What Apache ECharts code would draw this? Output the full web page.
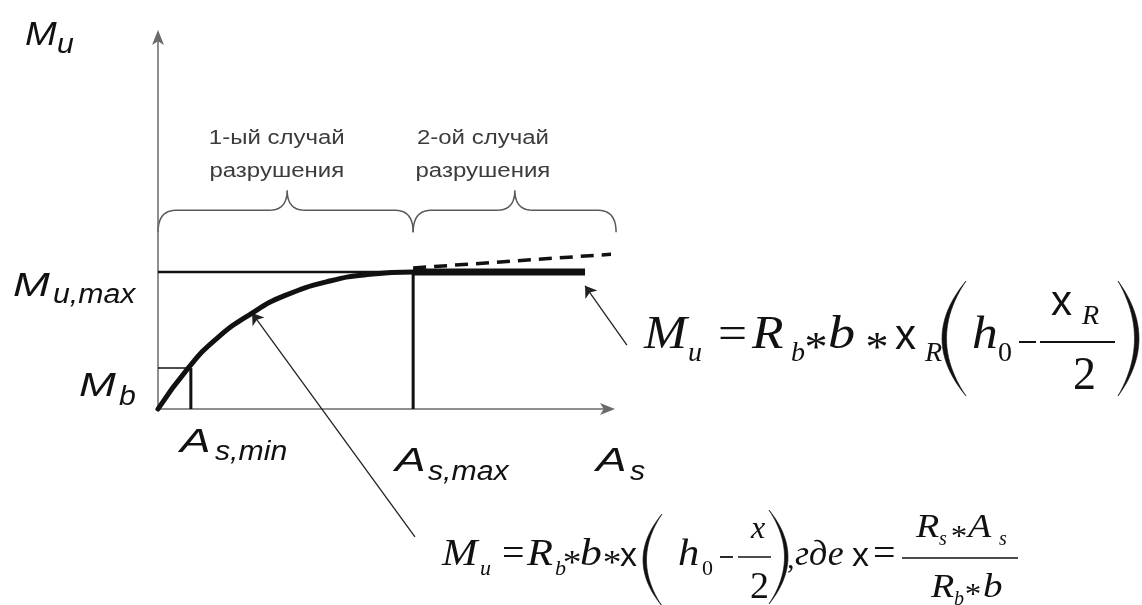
<!DOCTYPE html>
<html>
<head>
<meta charset="utf-8">
<title>Mu – As</title>
<script src="https://cdn.jsdelivr.net/npm/echarts/dist/echarts.min.js"></script>
<style>
  html, body { margin: 0; padding: 0; background: #fff; }
  #chart { width: 1142px; height: 605px; }
</style>
</head>
<body>
<div id="chart"></div>
<script>
// --- данные диаграммы (условные единицы осей 0..100) ---
const curveX = [0, 6.7, 13.1, 20.9, 28, 38.2, 47.1, 56.7];
const curveY = [0, 11.0, 19.0, 25.8, 30.4, 34.4, 36.2, 36.8];
const asMin = 7.3;      // A_s,min
const asMax = 56.7;     // A_s,max
const asEnd = 94.9;     // конец жирного участка
const mb = 11.0;        // M_b
const muMax = 36.8;     // M_u,max
const dashX = [56.7, 101.8];
const dashY = [37.9, 41.7];
const braceEdges = [[0, 56.7], [56.7, 101.8]];
const braceTips = [28.7, 79.3];
const braceLevel = 47.5;
const caseTextX = [26.4, 72.2];
const arrowFrom = [[57.1, -34.4], [104.2, 17.2]];
const arrowTo = [[20.9, 25.8], [94.9, 33.1]];
const caseLines = [['1-ый случай', 'разрушения'], ['2-ой случай', 'разрушения']];

const BLACK = '#111';
const SANS = '"Liberation Sans", Arial, sans-serif';
const SERIF = '"Liberation Serif", "Times New Roman", serif';

const chart = echarts.init(document.getElementById('chart'));

function seg(points, width, extra) {
  return Object.assign({
    type: 'line',
    data: points,
    symbol: 'none',
    clip: false,
    silent: true,
    lineStyle: { color: BLACK, width: width }
  }, extra || {});
}

function axis() {
  return {
    type: 'value',
    min: 0,
    max: 100,
    axisLine: {
      show: true,
      symbol: ['none', 'arrow'],
      symbolSize: [9, 15],
      symbolOffset: [0, 7],
      lineStyle: { color: '#6a6a6a', width: 1.5 }
    },
    axisTick: { show: false },
    axisLabel: { show: false },
    splitLine: { show: false }
  };
}

chart.setOption({
  animation: false,
  backgroundColor: '#fff',
  grid: { left: 158, right: 534, top: 37, bottom: 196 },
  xAxis: axis(),
  yAxis: axis(),
  series: [
    seg([[0, muMax], [asMax, muMax]], 2.5),
    seg([[asMax, 0], [asMax, muMax]], 3),
    seg([[asMin, 0], [asMin, mb]], 3),
    seg([[0, mb], [asMin, mb]], 1.5),
    seg(dashX.map((x, i) => [x, dashY[i]]), 3.5, {
      lineStyle: { color: BLACK, width: 3.5, type: [13, 8] }
    }),
    seg([[asMax, muMax], [asEnd, muMax]], 7),
    seg(curveX.map((x, i) => [x, curveY[i]]), 5, {
      smooth: 0.5,
      lineStyle: { color: BLACK, width: 5, cap: 'round', join: 'round' }
    }),
    {
      type: 'lines',
      coordinateSystem: 'cartesian2d',
      clip: false,
      silent: true,
      symbol: ['none', 'arrow'],
      symbolSize: 11,
      lineStyle: { color: '#222', width: 1.3, opacity: 1, curveness: 0 },
      data: arrowFrom.map((f, i) => ({ coords: [f, arrowTo[i]] }))
    }
  ]
});

// --- подписи и формулы ---
function txt(s, x, base, size, opt) {
  opt = opt || {};
  const fam = opt.serif ? SERIF : SANS;
  const font = (opt.italic ? 'italic ' : '') + size + 'px ' + fam;
  return {
    type: 'text',
    x: x,
    y: base - 0.34 * size,
    scaleX: opt.sx || 1,
    silent: true,
    style: {
      text: s,
      font: font,
      fill: opt.color || BLACK,
      textAlign: opt.align || 'left',
      textVerticalAlign: 'middle'
    }
  };
}

// курсивная буква формулы (Times), чуть шире как в оригинале
function it(s, x, base, size, sx) {
  return txt(s, x, base, size, { serif: true, italic: true, sx: sx || 1.12 });
}

// звёздочка умножения, по центру (cx, cy)
function star(cx, cy, size) {
  return txt('*', cx, cy + 0.5 * size, size, { serif: true, align: 'center', sx: 1.1 });
}

// точки квадратичной кривой Безье
function quad(p0, c, p1, n) {
  const pts = [];
  for (let i = 0; i <= n; i++) {
    const t = i / n, u = 1 - t;
    pts.push([u * u * p0[0] + 2 * u * t * c[0] + t * t * p1[0],
              u * u * p0[1] + 2 * u * t * c[1] + t * t * p1[1]]);
  }
  return pts;
}

function brace(x0, x1, xt, yEnd, yMid, yTip) {
  const r = 18;
  const pts = [].concat(
    quad([x0, yEnd], [x0, yMid], [x0 + r, yMid], 10),
    quad([xt - r, yMid], [xt, yMid], [xt, yTip], 10),
    quad([xt, yTip], [xt, yMid], [xt + r, yMid], 10),
    quad([x1 - r, yMid], [x1, yMid], [x1, yEnd], 10)
  );
  return { type: 'polyline', silent: true, shape: { points: pts }, style: { stroke: '#5a5a5a', lineWidth: 1.5, fill: null } };
}

// скобка формулы: left=true -> "(", иначе ")"
function paren(xl, xr, top, bot, th, left) {
  const mid = (top + bot) / 2;
  let outer, inner;
  if (left) {
    outer = quad([xr, top], [2 * xl - xr, mid], [xr, bot], 24);
    inner = quad([xr, bot], [2 * (xl + th) - xr, mid], [xr, top], 24);
  } else {
    outer = quad([xl, top], [2 * xr - xl, mid], [xl, bot], 24);
    inner = quad([xl, bot], [2 * (xr - th) - xl, mid], [xl, top], 24);
  }
  return { type: 'polygon', silent: true, shape: { points: outer.concat(inner) }, style: { fill: BLACK, stroke: BLACK, lineWidth: 0.6 } };
}

function bar(x0, x1, y, w) {
  return { type: 'line', silent: true, shape: { x1: x0, y1: y, x2: x1, y2: y }, style: { stroke: BLACK, lineWidth: w || 1.5 } };
}

const els = [];

// фигурные скобки над графиком
braceEdges.forEach((e, i) => {
  const p0 = chart.convertToPixel({ gridIndex: 0 }, [e[0], braceLevel]);
  const p1 = chart.convertToPixel({ gridIndex: 0 }, [e[1], braceLevel]);
  const pt = chart.convertToPixel({ gridIndex: 0 }, [braceTips[i], braceLevel]);
  const pc = chart.convertToPixel({ gridIndex: 0 }, [caseTextX[i], braceLevel]);
  els.push(brace(p0[0], p1[0], pt[0], p0[1], p0[1] - 22, p0[1] - 42));
  caseLines[i].forEach((line, j) => {
    els.push(txt(line, pc[0], 145 + j * 33, 20, { color: '#3c3c3c', align: 'center', sx: 1.2 }));
  });
});

// подписи осей (Arial italic)
const SUBX = 1.12;
els.push(
  txt('M', 25, 47, 34, { italic: true, sx: 1.12 }),
  txt('u', 57, 55, 27, { italic: true, sx: SUBX }),
  txt('M', 13, 298, 34, { italic: true, sx: 1.3 }),
  txt('u,max', 53, 305, 27, { italic: true, sx: SUBX }),
  txt('M', 79, 398, 34, { italic: true, sx: 1.3 }),
  txt('b', 119, 407, 27, { italic: true, sx: SUBX }),
  txt('A', 180, 454, 34, { italic: true, sx: 1.35 }),
  txt('s,min', 215, 462, 27, { italic: true, sx: SUBX }),
  txt('A', 395, 473, 34, { italic: true, sx: 1.35 }),
  txt('s,max', 428, 482, 27, { italic: true, sx: SUBX }),
  txt('A', 596, 473, 34, { italic: true, sx: 1.35 }),
  txt('s', 630, 482, 27, { italic: true, sx: SUBX })
);

// формула справа: Mu = Rb*b*xR(h0 - xR/2)
const F = 46, FS = 28, B = 352, BS = 363;
els.push(
  it('M', 644, B, F),
  txt('u', 688, BS, FS, { serif: true, italic: true }),
  txt('=', 718, B, F, { serif: true, sx: 1.12 }),
  it('R', 752, B, F),
  txt('b', 791, BS, FS, { serif: true, italic: true }),
  star(816, 343, 42),
  it('b', 828, B, F, 1.18),
  star(877, 343, 42),
  txt('x', 895, B, 42),
  txt('R', 925, BS, FS, { serif: true, italic: true }),
  paren(942, 966, 281, 396, 4.5, true),
  it('h', 972, B, F),
  txt('0', 998, BS, FS, { serif: true }),
  bar(1019, 1036, 342, 2),
  bar(1040, 1115, 342, 1.8),
  txt('x', 1051, 318, 42),
  txt('R', 1082, 326, FS, { serif: true, italic: true }),
  txt('2', 1073, 393, F, { serif: true }),
  paren(1118, 1139, 281, 396, 4.5, false)
);

// формула снизу: Mu = Rb*b*x(h0 - x/2), где x = Rs*As / (Rb*b)
const G = 38, GS = 22, C = 568, CS = 577;
els.push(
  it('M', 442, C, G),
  txt('u', 480, CS, GS, { serif: true, italic: true }),
  txt('=', 502, C, G, { serif: true, sx: 1.05 }),
  it('R', 527, C, G),
  txt('b', 555, CS, GS, { serif: true, italic: true }),
  star(572, 559, 34),
  it('b', 580, C, G, 1.15),
  star(612, 559, 34),
  txt('x', 620, C, 34),
  paren(643, 662, 514, 606, 3.5, true),
  it('h', 678, C, G),
  txt('0', 702, CS, GS, { serif: true }),
  bar(720, 733, 557, 1.8),
  bar(738, 771, 557, 1.5),
  txt('x', 751, 540, 32, { serif: true, italic: true }),
  txt('2', 750, 601, G, { serif: true }),
  paren(769, 788, 510, 604, 3.5, false),
  txt(',', 787, 570, 30, { serif: true }),
  txt('где', 795, C, 36, { serif: true, italic: true }),
  txt('x', 852, C, 34),
  txt('=', 873, C, G, { serif: true, sx: 1.05 }),
  bar(902, 1018, 558, 1.5),
  it('R', 916, 540, 34),
  txt('s', 939, 547, 20, { serif: true, italic: true }),
  star(959, 532, 30),
  it('A', 968, 540, 34),
  txt('s', 999, 547, 20, { serif: true, italic: true }),
  it('R', 931, 600, 34),
  txt('b', 954, 607, 20, { serif: true, italic: true }),
  star(973, 590, 30),
  it('b', 983, 600, 34, 1.15)
);

chart.setOption({ graphic: { elements: els } });

window.addEventListener('resize', function () {
  chart.resize();
});
</script>
</body>
</html>
